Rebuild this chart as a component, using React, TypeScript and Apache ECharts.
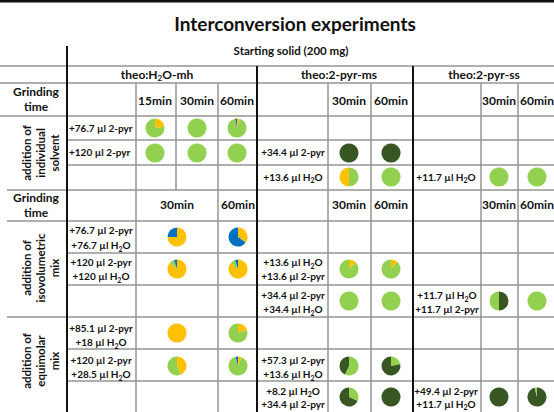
import React, { useEffect, useRef } from "react";
import * as echarts from "echarts";

// ---------- data ----------
const PHASES = ["light green", "orange", "blue", "dark green"];
const PHASE_COLORS = ["#92D050", "#FFC000", "#0070C0", "#375623"];

const TITLE = "Interconversion experiments";
const SUBTITLE = "Starting solid (200 mg)";
const SECTION_HEADERS = ["theo:H2O-mh", "theo:2-pyr-ms", "theo:2-pyr-ss"];
const TIMES_MH_TOP = ["15min", "30min", "60min"];
const TIMES_TWO = ["30min", "60min"];
const GROUP_LABELS = [
  "addition of\nindividual\nsolvent",
  "addition of\nisovolumetric\nmix",
  "addition of\nequimolar\nmix",
];

// each pie: list of [phaseIndex, share %], clockwise from 12 o'clock
const individualMh76 = [[[1, 23], [0, 77]], [[0, 100]], [[1, 5], [0, 92], [2, 3]]];
const individualMh120 = [[[0, 100]], [[0, 100]], [[0, 100]]];
const individualMs34 = [[[3, 100]], [[3, 100]]];
const individualMs13 = [[[0, 50], [1, 50]], [[0, 100]]];
const individualSs11 = [[[0, 100]], [[0, 100]]];
const isoMh76 = [[[1, 75], [2, 25]], [[1, 35], [2, 65]]];
const isoMh120 = [[[1, 87], [0, 8], [2, 5]], [[1, 86], [0, 9], [2, 5]]];
const isoMs13 = [[[1, 13], [0, 87]], [[1, 12], [0, 88]]];
const isoMs34 = [[[0, 100]], [[0, 100]]];
const isoSs11 = [[[3, 50], [0, 50]], [[0, 100]]];
const equiMh85 = [[[1, 100]], [[1, 20], [0, 80]]];
const equiMh120 = [[[1, 44], [0, 56]], [[1, 6], [0, 90], [2, 4]]];
const equiMs57 = [[[0, 57], [3, 43]], [[0, 22], [3, 78]]];
const equiMs8 = [[[0, 32], [3, 68]], [[3, 100]]];
const equiSs49 = [[[3, 100]], [[3, 96], [0, 4]]];

// row labels
const LBL_IND_MH = ["+76.7 µl 2-pyr", "+120 µl 2-pyr"];
const LBL_IND_MS = ["+34.4 µl 2-pyr", "+13.6 µl H2O"];
const LBL_IND_SS = ["+11.7 µl H2O"];
const LBL_ISO_MH = ["+76.7 µl 2-pyr\n+76.7 µl H2O", "+120 µl 2-pyr\n+120 µl H2O"];
const LBL_ISO_MS = ["+13.6 µl H2O\n+13.6 µl 2-pyr", "+34.4 µl 2-pyr\n+34.4 µl H2O"];
const LBL_ISO_SS = ["+11.7 µl H2O\n+11.7 µl 2-pyr"];
const LBL_EQ_MH = ["+85.1 µl 2-pyr\n+18 µl H2O", "+120 µl 2-pyr\n+28.5 µl H2O"];
const LBL_EQ_MS = ["+57.3 µl 2-pyr\n+13.6 µl H2O", "+8.2 µl H2O\n+34.4 µl 2-pyr"];
const LBL_EQ_SS = ["+49.4 µl 2-pyr\n+11.7 µl H2O"];

// ---------- layout ----------
const FONT = "Lato";
const GRAY = "#959595";
const BLACK = "#111";

const colsMhTop = [155, 197, 237];
const colsMhBottom = [177, 238];
const colsMs = [349, 391];
const colsSs = [499, 537];

function richify(s: string) {
  return s.replace(/H2O/g, "H{s|2}O");
}

function makeText(
  x: number,
  y: number,
  text: string,
  size: number,
  align: string = "center",
  lineHeight?: number,
  rotation = 0
) {
  const lh = lineHeight || Math.round(size * 1.3);
  return {
    type: "text",
    x,
    y,
    rotation,
    silent: true,
    style: {
      text: richify(text),
      fill: BLACK,
      fontFamily: FONT,
      fontWeight: "bold",
      fontSize: size,
      lineHeight: lh,
      align,
      textAlign: align,
      verticalAlign: "middle",
      textVerticalAlign: "middle",
      rich: {
        s: {
          fontFamily: FONT,
          fontWeight: "bold",
          fontSize: Math.round(size * 0.68),
          lineHeight: Math.round(size * 0.5),
          verticalAlign: "bottom",
          fill: BLACK,
        },
      },
    },
  };
}

function hLine(x1: number, x2: number, y: number, color = GRAY, w = 1.5) {
  return {
    type: "line",
    silent: true,
    shape: { x1, y1: y, x2, y2: y },
    style: { stroke: color, lineWidth: w },
  };
}
function vLine(x: number, y1: number, y2: number, color = GRAY, w = 1.5) {
  return {
    type: "line",
    silent: true,
    shape: { x1: x, y1, x2: x, y2 },
    style: { stroke: color, lineWidth: w },
  };
}

function pieBlock(block: number[][][], xs: number[], y: number) {
  return block.map((parts, i) => ({
    type: "pie",
    center: [xs[i], y],
    radius: 9.5,
    startAngle: 90,
    clockwise: true,
    silent: true,
    label: { show: false },
    labelLine: { show: false },
    itemStyle: { borderWidth: 0 },
    emphasis: { disabled: true },
    data: parts.map(([p, v]) => ({
      name: PHASES[p],
      value: v,
      itemStyle: { color: PHASE_COLORS[p] },
    })),
  }));
}

export default function App() {
  const ref = useRef<HTMLDivElement>(null);

  useEffect(() => {
    if (!ref.current) return;
    const chart = echarts.init(ref.current, undefined, { renderer: "svg" });

    const lines: any[] = [
      // gray horizontals
      hLine(0, 554, 66),
      hLine(0, 554, 83),
      hLine(0, 554, 116),
      hLine(67, 554, 140),
      hLine(67, 554, 165),
      hLine(7, 554, 190),
      hLine(7, 554, 221),
      hLine(67, 554, 253),
      hLine(67, 554, 285),
      hLine(7, 554, 317),
      hLine(67, 554, 349),
      hLine(67, 554, 381),
      // gray verticals
      vLine(136, 83, 412),
      vLine(176, 83, 190),
      vLine(218, 83, 412),
      vLine(328, 83, 412),
      vLine(371, 83, 412),
      vLine(481, 83, 412),
      vLine(518, 83, 412),
      // black
      hLine(0, 554, 1.2, BLACK, 2.5),
      vLine(67, 46, 412, BLACK, 2),
      vLine(257, 66, 412, BLACK, 2),
      vLine(413, 66, 412, BLACK, 2),
    ];

    const LS = 10;
    const texts: any[] = [
      makeText(295, 23, TITLE, 19),
      makeText(291, 50, SUBTITLE, 11.5),
      makeText(157, 74, SECTION_HEADERS[0], 12),
      makeText(339, 74, SECTION_HEADERS[1], 12),
      makeText(484, 74, SECTION_HEADERS[2], 12),
      makeText(36, 99, "Grinding\ntime", 12, "center", 15),
      makeText(36, 205, "Grinding\ntime", 12, "center", 15),
      ...TIMES_MH_TOP.map((t, i) => makeText(colsMhTop[i], 100, t, 12)),
      ...TIMES_TWO.map((t, i) => makeText(colsMs[i], 100, t, 12)),
      ...TIMES_TWO.map((t, i) => makeText(colsSs[i], 100, t, 12)),
      ...TIMES_TWO.map((t, i) => makeText(colsMhBottom[i], 204, t, 12)),
      ...TIMES_TWO.map((t, i) => makeText(colsMs[i], 204, t, 12)),
      ...TIMES_TWO.map((t, i) => makeText(colsSs[i], 204, t, 12)),
      makeText(40, 153, GROUP_LABELS[0], 11.5, "center", 14, Math.PI / 2),
      makeText(40, 268, GROUP_LABELS[1], 11.5, "center", 14, Math.PI / 2),
      makeText(40, 361, GROUP_LABELS[2], 11.5, "center", 14, Math.PI / 2),
      // individual
      makeText(69, 128, LBL_IND_MH[0], LS, "left"),
      makeText(69, 152, LBL_IND_MH[1], LS, "left"),
      makeText(293, 152, LBL_IND_MS[0], LS),
      makeText(293, 177, LBL_IND_MS[1], LS),
      makeText(446, 177, LBL_IND_SS[0], LS),
      // isovolumetric
      makeText(101, 237, LBL_ISO_MH[0], LS, "center", 15),
      makeText(101, 269, LBL_ISO_MH[1], LS, "center", 14),
      makeText(293, 269, LBL_ISO_MS[0], LS, "center", 14),
      makeText(293, 302, LBL_ISO_MS[1], LS, "center", 14),
      makeText(447, 302, LBL_ISO_SS[0], LS, "center", 14),
      // equimolar
      makeText(101, 335, LBL_EQ_MH[0], LS, "center", 14),
      makeText(101, 367, LBL_EQ_MH[1], LS, "center", 14),
      makeText(293, 367, LBL_EQ_MS[0], LS, "center", 14),
      makeText(293, 397, LBL_EQ_MS[1], LS, "center", 13),
      makeText(446, 397, LBL_EQ_SS[0], LS, "center", 13),
    ];

    const series: any[] = [
      ...pieBlock(individualMh76, colsMhTop, 128),
      ...pieBlock(individualMh120, colsMhTop, 153),
      ...pieBlock(individualMs34, colsMs, 153),
      ...pieBlock(individualMs13, colsMs, 177),
      ...pieBlock(individualSs11, colsSs, 177),
      ...pieBlock(isoMh76, colsMhBottom, 237),
      ...pieBlock(isoMh120, colsMhBottom, 269),
      ...pieBlock(isoMs13, colsMs, 269),
      ...pieBlock(isoMs34, colsMs, 301),
      ...pieBlock(isoSs11, colsSs, 301),
      ...pieBlock(equiMh85, colsMhBottom, 333),
      ...pieBlock(equiMh120, colsMhBottom, 366),
      ...pieBlock(equiMs57, colsMs, 366),
      ...pieBlock(equiMs8, colsMs, 397),
      ...pieBlock(equiSs49, colsSs, 397),
    ];

    chart.setOption({
      animation: false,
      backgroundColor: "#ffffff",
      graphic: { elements: [...lines, ...texts] },
      series,
    });

    return () => chart.dispose();
  }, []);

  return (
    <div
      ref={ref}
      style={{ position: "fixed", left: 0, top: 0, width: 554, height: 412, background: "#fff" }}
    />
  );
}
